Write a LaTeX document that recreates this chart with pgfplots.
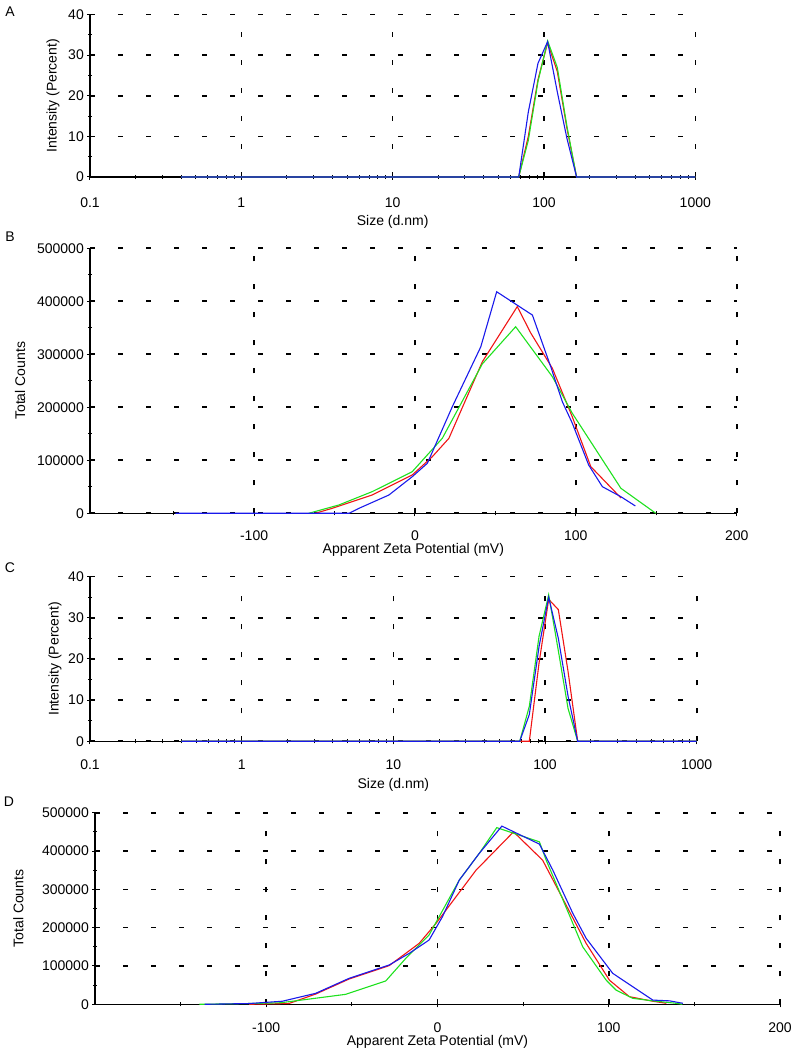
\documentclass[border=0pt]{standalone}
\usepackage{fontspec}
\setmainfont{Liberation Sans}
\usepackage{pgfplots}
\pgfplotsset{compat=1.18}

\definecolor{cred}{RGB}{240,20,20}
\definecolor{cgreen}{RGB}{30,225,30}
\definecolor{cblue}{RGB}{25,25,235}

\pgfplotsset{
  dls/.style={
    scale only axis,
    axis x line=bottom, axis y line=left,
    axis line style={-, black, line width=1.3pt},
    tick style={black, line width=1pt},
    tick align=center,
    major tick length=6pt, minor tick length=4pt,
    xmajorgrids, ymajorgrids,
    major grid style={black, line width=1.6pt, dash pattern=on 5pt off 23pt},
    tick label style={font=\fontsize{14}{16}\selectfont},
    label style={font=\fontsize{14}{16}\selectfont},
    yticklabel style={anchor=east, inner sep=0pt, xshift=-3pt},
    /pgf/number format/assume math mode=true,
    clip=false,
    every axis plot/.append style={line width=1.1pt, mark=none},
  },
  sizeaxis/.style={dls,
    xmin=0.1, xmax=1000, ymin=0, ymax=40,
    xtick={0.1,1,10,100,1000}, xticklabels={0.1,1,10,100,1000},
    minor xtick={0.2,0.3,0.4,0.5,0.6,0.7,0.8,0.9,2,3,4,5,6,7,8,9,
                 20,30,40,50,60,70,80,90,200,300,400,500,600,700,800,900},
    ytick={0,10,20,30,40}, minor ytick={5,15,25,35},
    xlabel={Size (d.nm)}, ylabel={Intensity (Percent)}},
  zetaaxis/.style={dls,
    xmax=200, ymin=0, ymax=500000,
    xtick={-100,0,100,200}, minor xtick={-150,-50,50,150},
    ytick={0,100000,200000,300000,400000,500000},
    minor ytick={50000,150000,250000,350000,450000},
    scaled y ticks=false,
    yticklabel style={/pgf/number format/fixed, /pgf/number format/1000 sep={}},
    xlabel={Apparent Zeta Potential (mV)}, ylabel={Total Counts}},
}

\begin{document}
\begin{tikzpicture}
\path[use as bounding box] (0pt,0pt) rectangle (800pt,1054pt);

\node[font=\fontsize{14}{16}\selectfont] at (10pt,1042pt) {A};
\node[font=\fontsize{14}{16}\selectfont] at (10pt,817pt) {B};
\node[font=\fontsize{14}{16}\selectfont] at (10pt,486pt) {C};
\node[font=\fontsize{14}{16}\selectfont] at (9pt,252pt) {D};

% A: size distribution
\begin{semilogxaxis}[sizeaxis, at={(90pt,877pt)}, anchor=south west,
  width=605.3pt, height=162.5pt,
  xticklabel style={anchor=center, yshift=-23pt},
  xlabel style={at={(axis description cs:0.5,-0.275)}, anchor=center},
  ylabel style={at={(axis description cs:-0.0611,0.5)}, anchor=center}]
\addplot[cred] coordinates {(0.4,0) (68.1,0) (78.8,10) (91.3,24) (105.7,33) (122.4,26) (141.8,12) (164.2,0) (1000,0)};
\addplot[cgreen] coordinates {(0.4,0) (68.1,0) (78.8,9) (91.3,23.5) (105.7,33.5) (122.4,27) (141.8,12.5) (164.2,0) (1000,0)};
\addplot[cblue] coordinates {(0.4,0) (68.1,0) (78.8,16) (91.3,28) (105.7,33.3) (122.4,21) (141.8,9.5) (164.2,0) (1000,0)};
\end{semilogxaxis}

% B: zeta potential
\begin{axis}[zetaaxis, xmin=-202, at={(90pt,540.7pt)}, anchor=south west,
  width=646.7pt, height=265pt,
  xticklabel style={anchor=center, yshift=-19.4pt},
  xlabel style={at={(axis description cs:0.5,-0.1385)}, anchor=center},
  ylabel style={at={(axis description cs:-0.1082,0.5)}, anchor=center}]
\addplot[cred] coordinates {(-62,0) (-51.4,9400) (-26.6,34500) (-1.7,72300) (10.8,106800) (21.1,141500) (41.9,286000) (63.6,390000) (72,340000) (85.4,273600) (97.8,182000) (109.3,88000) (126.9,32600) (128,29000)};
\addplot[cgreen] coordinates {(-66,0) (-47.3,15700) (-26.6,40800) (-1.7,78500) (17,141500) (41.9,282000) (62.6,352000) (85.4,257800) (97.8,188700) (128,47200) (149.7,0)};
\addplot[cblue] coordinates {(-149,0) (-41,0) (-34.8,9400) (-16.2,34500) (-1.7,69000) (7.7,94300) (23.2,201000) (40.9,314000) (50.8,418000) (73,374000) (84.4,276600) (91.6,210600) (97.8,170000) (108,91000) (116.5,50200) (128,31300) (137,13800)};
\end{axis}

% C: size distribution
\begin{semilogxaxis}[sizeaxis, at={(90pt,312.7pt)}, anchor=south west,
  width=606.7pt, height=164.6pt,
  xticklabel style={anchor=center, yshift=-20.4pt},
  xlabel style={at={(axis description cs:0.5,-0.2655)}, anchor=center},
  ylabel style={at={(axis description cs:-0.0577,0.5)}, anchor=center}]
\addplot[cred] coordinates {(0.4,0) (78.8,0) (91.3,19) (105.7,34.5) (122.4,32) (141.8,17) (164.2,0) (1000,0)};
\addplot[cgreen] coordinates {(0.4,0) (68.1,0) (78.8,8.5) (91.3,25.5) (105.7,35.6) (122.4,22) (141.8,8) (164.2,0) (1000,0)};
\addplot[cblue] coordinates {(0.4,0) (68.1,0) (78.8,6.5) (91.3,23) (105.7,35) (122.4,25) (141.8,11) (164.2,0) (1000,0)};
\end{semilogxaxis}

% D: zeta potential
\begin{axis}[zetaaxis, xmin=-200, at={(95pt,49.7pt)}, anchor=south west,
  width=685pt, height=191.6pt,
  xticklabel style={anchor=center, yshift=-20.7pt},
  xlabel style={at={(axis description cs:0.5,-0.195)}, anchor=center},
  ylabel style={at={(axis description cs:-0.112,0.5)}, anchor=center}]
\addplot[cred] coordinates {(-110,0) (-86.8,2000) (-71,27000) (-51.6,66000) (-28.2,101000) (-10.7,159000) (-0.9,211000) (22.5,350000) (44.4,450000) (61.4,376000) (86.8,159000) (100.4,63000) (112,20000) (125.7,8000) (133.6,2600)};
\addplot[cgreen] coordinates {(-139,0) (-110,2000) (-91.6,4000) (-53.6,26000) (-30.2,61000) (-18.5,120000) (-4.9,181000) (12.7,324000) (24.4,394000) (34.6,461000) (59.5,424000) (63.4,377000) (84.8,150000) (98.5,63000) (104.3,37000) (114,15600) (125.7,9000) (139.4,2600) (143,0)};
\addplot[cblue] coordinates {(-136,0) (-110,2000) (-90.6,8000) (-71.1,28700) (-51.6,67800) (-28.2,102600) (-16.5,133000) (-4.9,167800) (2.9,228600) (12.7,324000) (24.4,394000) (37.6,465000) (59.5,418000) (67.3,350500) (79,237500) (86.8,172200) (102.3,80900) (114,46000) (125.7,11000) (135.5,9000) (143.3,2600)};
\end{axis}
\end{tikzpicture}
\end{document}
